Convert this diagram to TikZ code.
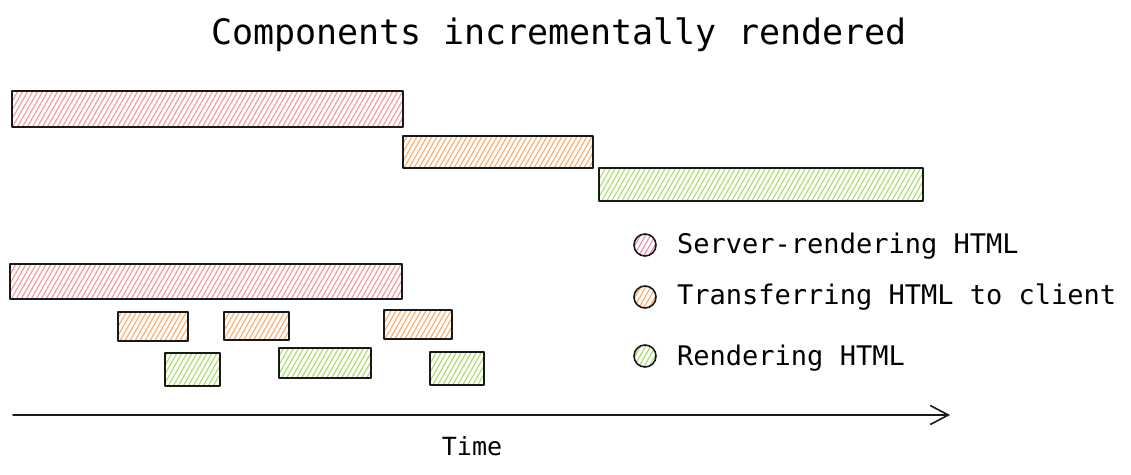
\documentclass[tikz,border=0pt]{standalone}
\usepackage{fontspec}
\setmonofont{DejaVu Sans Mono}
\usetikzlibrary{arrows.meta}
\definecolor{hatchred}{RGB}{248,150,150}
\definecolor{hatchpink}{RGB}{238,140,180}
\definecolor{hatchorange}{RGB}{255,170,105}
\definecolor{hatchgreen}{RGB}{170,220,105}
\tikzset{
  hatched/.style={draw=black!90,line width=2.2pt,inner sep=0pt,
    path picture={
      \foreach \k in {-230,-225,...,230}
        \draw[#1,line width=1.1pt] ([xshift=\k pt-12pt,yshift=-21pt]path picture bounding box.center) -- ([xshift=\k pt+12pt,yshift=21pt]path picture bounding box.center);
    }},
  bar/.style={hatched=#1,rectangle,anchor=north west},
  dot/.style={hatched=#1,circle,minimum size=22pt,line width=1.6pt},
  legend/.style={font=\ttfamily\fontsize{27}{30}\selectfont,anchor=base west,inner sep=0pt},
}

\begin{document}
\begin{tikzpicture}[x=1pt,y=-1pt,line cap=round,line join=round]
\useasboundingbox (0,0) rectangle (1131,474);
\node[font=\ttfamily\fontsize{35}{40}\selectfont,anchor=base,inner sep=0pt] (title) at (559,44) {Components incrementally rendered};
% one after the other
\node[bar=hatchred,minimum width=391pt,minimum height=36pt] (srv) at (11,90) {};
\node[bar=hatchorange,minimum width=190pt,minimum height=32pt] (xfer) at (402,135) {};
\node[bar=hatchgreen,minimum width=324pt,minimum height=33pt] (rend) at (598,167) {};
% incremental
\node[bar=hatchred,minimum width=392pt,minimum height=35pt] (srvb) at (9,263) {};
\node[bar=hatchorange,minimum width=70pt,minimum height=29pt] (xfera) at (117,311) {};
\node[bar=hatchorange,minimum width=65pt,minimum height=28pt] (xferb) at (223,311) {};
\node[bar=hatchorange,minimum width=68pt,minimum height=29pt] (xferc) at (383,309) {};
\node[bar=hatchgreen,minimum width=55pt,minimum height=33pt] (renda) at (164,352) {};
\node[bar=hatchgreen,minimum width=92pt,minimum height=30pt] (rendb) at (278,347) {};
\node[bar=hatchgreen,minimum width=54pt,minimum height=33pt] (rendc) at (429,351) {};
% legend
\node[dot=hatchpink] (dsrv) at (645,245) {};
\node[dot=hatchorange] (dxfer) at (645,297) {};
\node[dot=hatchgreen] (drend) at (645,356) {};
\node[legend] (lsrv) at (677,253) {Server-rendering HTML};
\node[legend] (lxfer) at (677,304) {Transferring HTML to client};
\node[legend] (lrend) at (677,365) {Rendering HTML};
% time axis
\coordinate (t0) at (13,415);
\coordinate (t1) at (950,415);
\draw[black!90,line width=1.8pt,-{Straight Barb[length=18pt,width=19pt,line width=1.6pt]}] (t0) -- (t1);
\node[font=\ttfamily\fontsize{25}{28}\selectfont,anchor=base,inner sep=0pt] (time) at (472,455) {Time};
\end{tikzpicture}
\end{document}
